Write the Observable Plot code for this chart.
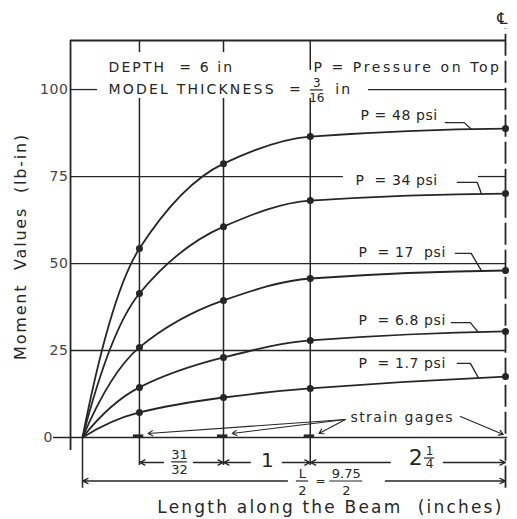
<!DOCTYPE html>
<html><head><meta charset="utf-8">
<script src="https://cdn.jsdelivr.net/npm/d3@7"></script>
<script src="https://cdn.jsdelivr.net/npm/@observablehq/plot@0.6"></script>
<style>body{margin:0;background:#fff;} svg text{white-space:pre;}</style>
</head><body><div id="chart"></div>
<script>
// ---- data ----
const stations = [0, 0.65625, 1.625, 2.625, 4.875];   // inches along beam (gages + centre line)
const pressures = ["48", "34", "17", "6.8", "1.7"];    // psi
const m48  = [0, 54.3, 78.7, 86.5, 88.8];
const m34  = [0, 41.4, 60.6, 68.1, 70.1];
const m17  = [0, 25.9, 39.4, 45.7, 48.0];
const m6_8 = [0, 14.4, 23.0, 27.9, 30.5];
const m1_7 = [0,  7.2, 11.5, 14.1, 17.5];
const yTicks = [0, 25, 50, 75, 100];
const dimLabels = ["31/32", "1", "2 1/4"];

const halfSpan = stations[4];
const gages = stations.slice(1, 4);
const seriesValues = [m48, m34, m17, m6_8, m1_7];
const rows = pressures.flatMap((p, i) => stations.map((x, j) => ({p, x, m: seriesValues[i][j]})));

const ink = "#262626";
const T = (t, x, y, o = {}) => Plot.text([{t, x, y}], {x: "x", y: "y", text: "t", fill: ink, fontSize: 14, ...o});
const frac = (num, den, x, yb, dyUp, dyDn, half, fs) => [
  T(num, x, yb + dyUp, {fontSize: fs}),
  T(den, x, yb - dyDn, {fontSize: fs}),
  Plot.ruleY([yb], {x1: x - half, x2: x + half, stroke: ink, strokeWidth: 1.2})
];

// smooth concave Hermite curve through the measured points
function curveGage(context) {
  let xs, ys;
  return {
    areaStart() {}, areaEnd() {},
    lineStart() { xs = []; ys = []; },
    point(x, y) { xs.push(+x); ys.push(+y); },
    lineEnd() {
      const n = xs.length;
      if (!n) return;
      context.moveTo(xs[0], ys[0]);
      if (n === 1) return;
      const s = [];
      for (let i = 0; i < n - 1; i++) s[i] = (ys[i + 1] - ys[i]) / (xs[i + 1] - xs[i]);
      const t = new Array(n);
      for (let i = 1; i < n - 1; i++) t[i] = s[i - 1] * s[i] > 0 ? 2 * s[i - 1] * s[i] / (s[i - 1] + s[i]) : 0;
      t[0] = n > 2 ? 2 * s[0] - t[1] : s[0];
      t[n - 1] = n > 2 ? 2 * s[n - 2] - t[n - 2] : s[n - 2];
      for (let i = 0; i < n - 1; i++) {
        const h = xs[i + 1] - xs[i];
        context.bezierCurveTo(xs[i] + h / 3, ys[i] + t[i] * h / 3, xs[i + 1] - h / 3, ys[i + 1] - t[i + 1] * h / 3, xs[i + 1], ys[i + 1]);
      }
    }
  };
}

// gridline segments (broken where text sits)
const grid = [
  {y: yTicks[1], x1: -0.138, x2: halfSpan},
  {y: yTicks[2], x1: -0.138, x2: halfSpan},
  {y: yTicks[3], x1: -0.138, x2: 3.007}, {y: yTicks[3], x1: 4.562, x2: halfSpan},
  {y: yTicks[4], x1: -0.138, x2: 0.173}, {y: yTicks[4], x1: 3.295, x2: halfSpan}
];
const gageSegs = gages.flatMap((g, i) => [
  {x: g, y1: -8.05, y2: 97.4},
  {x: g, y1: i === 2 ? 105.5 : 110.6, y2: 114.1}
]);

const pLabels = [
  {t: "P = " + pressures[0] + " psi", x: 3.203, y: 92.4, ly: 90.5, a: 4.182, b: 4.40, c: 4.48, e: 88.6},
  {t: "P  = " + pressures[1] + " psi", x: 3.145, y: 73.9, ly: 73.3, a: 4.32, b: 4.55, c: 4.60, e: 69.9},
  {t: "P  = " + pressures[2] + "  psi", x: 3.18, y: 53.2, ly: 52.9, a: 4.297, b: 4.48, c: 4.60, e: 47.8},
  {t: "P  = " + pressures[3] + " psi", x: 3.18, y: 33.6, ly: 33.0, a: 4.251, b: 4.47, c: 4.562, e: 30.2},
  {t: "P  = " + pressures[4] + " psi", x: 3.18, y: 21.3, ly: 21.3, a: 4.32, b: 4.47, c: 4.562, e: 17.2}
];
const leaders = pLabels.flatMap((l, i) => [
  {i, x: l.a, y: l.ly}, {i, x: l.b, y: l.ly}, {i, x: l.c, y: l.e}
]);

const r1 = -7.18, r2 = -12.5;
const dimArrows = [
  {x1: 0.933, x2: gages[0], y: r1}, {x1: 1.279, x2: gages[1], y: r1},
  {x1: 1.935, x2: gages[1], y: r1}, {x1: 2.304, x2: gages[2], y: r1},
  {x1: 3.548, x2: gages[2], y: r1}, {x1: 4.159, x2: halfSpan, y: r1},
  {x1: 2.362, x2: 0, y: r2}, {x1: 3.491, x2: halfSpan, y: r2}
];
const gageArrows = [
  ...gages.map(g => ({x1: 3.03, y1: 5.17, x2: g + 0.1, y2: 1.15})),
  {x1: 4.355, y1: 6.03, x2: 4.85, y2: 0.86}
];

const plot = Plot.plot({
  width: 517, height: 519,
  marginLeft: 82, marginRight: 12, marginTop: 40, marginBottom: 82,
  x: {domain: [0, halfSpan], axis: null},
  y: {domain: [0, 114.1]},
  style: {fontFamily: "DejaVu Sans", background: "#fff", color: ink, overflow: "visible"},
  marks: [
    Plot.ruleY(grid, {y: "y", x1: "x1", x2: "x2", stroke: ink, strokeWidth: 1.3}),
    Plot.ruleY([0], {x1: -0.334, x2: 4.9, stroke: ink, strokeWidth: 1.7}),
    Plot.ruleY([114.1], {x1: -0.138, x2: halfSpan, stroke: ink, strokeWidth: 1.8}),
    Plot.ruleX([-0.138], {y1: -3.74, y2: 114.1, stroke: ink, strokeWidth: 1.8}),
    Plot.ruleX(gageSegs, {x: "x", y1: "y1", y2: "y2", stroke: ink, strokeWidth: 1.5}),
    Plot.ruleX([0], {y1: -14.6, y2: 0, stroke: ink, strokeWidth: 1.5}),
    Plot.ruleX([halfSpan], {y1: -14.6, y2: 117.5, stroke: ink, strokeWidth: 1.8, strokeDasharray: "22,5"}),
    Plot.line(rows, {x: "x", y: "m", z: "p", curve: curveGage, stroke: ink, strokeWidth: 1.8}),
    Plot.dot(rows.filter(d => d.x > 0), {x: "x", y: "m", r: 3.5, fill: ink}),
    Plot.axisY(yTicks.slice(1), {tickSize: 0, tickPadding: 14, fontSize: 14, color: "#444", label: null}),
    Plot.axisY([yTicks[0]], {tickSize: 0, tickPadding: 30, fontSize: 14, color: "#444", label: null}),
    T("Moment  Values  (lb-in)", -0.714, 54.9, {rotate: -90, fontSize: 16}),
    T("Length along the Beam  (inches)", 2.857, -20.1, {fontSize: 17}),
    // header block
    T("DEPTH  = 6 in", 0.30, 106.3, {textAnchor: "start"}),
    T("MODEL THICKNESS  =", 0.30, 100, {textAnchor: "start"}),
    ...frac("3", "16", 2.70, 99.9, 1.9, 2.3, 0.075, 12),
    T("in", 2.913, 100, {textAnchor: "start"}),
    T("P = Pressure on Top", 2.661, 106.3, {textAnchor: "start"}),
    // pressure labels + leaders
    Plot.text(pLabels, {x: "x", y: "y", text: "t", textAnchor: "start", fill: ink, fontSize: 14}),
    Plot.line(leaders, {x: "x", y: "y", z: "i", stroke: ink, strokeWidth: 1.3}),
    // strain gages
    T("strain gages", 3.088, 5.75, {textAnchor: "start"}),
    Plot.arrow(gageArrows, {x1: "x1", y1: "y1", x2: "x2", y2: "y2", stroke: ink, strokeWidth: 1.1, headLength: 7}),
    Plot.ruleY(gages, {y: 0.45, x1: d => d - 0.07, x2: d => d + 0.05, stroke: ink, strokeWidth: 3}),
    // dimension lines
    Plot.arrow(dimArrows, {x1: "x1", x2: "x2", y1: "y", y2: "y", stroke: ink, strokeWidth: 1.3, headLength: 7, headAngle: 50}),
    ...frac(dimLabels[0].split("/")[0], dimLabels[0].split("/")[1], 1.118, -7.0, 2.1, 2.2, 0.09, 13),
    T(dimLabels[1], 2.131, -6.6, {fontSize: 20}),
    T(dimLabels[2].split(" ")[0], 3.84, -6.0, {fontSize: 22}),
    ...frac("1", "4", 4.0, -5.9, 2.0, 1.7, 0.06, 12),
    ...frac("L", "2", 2.535, -12.5, 2.2, 2.7, 0.07, 13),
    T("=", 2.742, -12.6, {fontSize: 12}),
    ...frac("9.75", "2", 3.04, -12.5, 2.2, 2.7, 0.19, 13),
    T("\u2104", 4.84, 120.4, {fontSize: 16})
  ]
});

const spacing = new Map([
  ["DEPTH  = 6 in", "2.1px"], ["MODEL THICKNESS  =", "2.2px"], ["in", "2px"],
  ["P = Pressure on Top", "2.6px"], ["Moment  Values  (lb-in)", "1.8px"],
  ["Length along the Beam  (inches)", "2.2px"], ["strain gages", "1.4px"],
  ["25", "0.6px"], ["50", "0.6px"], ["75", "0.6px"], ["100", "0.6px"]
]);
for (const p of pLabels) spacing.set(p.t, "0.6px");
d3.select(plot).selectAll("text").each(function () {
  const v = spacing.get(this.textContent);
  if (v) this.style.letterSpacing = v;
});
document.getElementById("chart").appendChild(plot);
</script>
</body></html>
